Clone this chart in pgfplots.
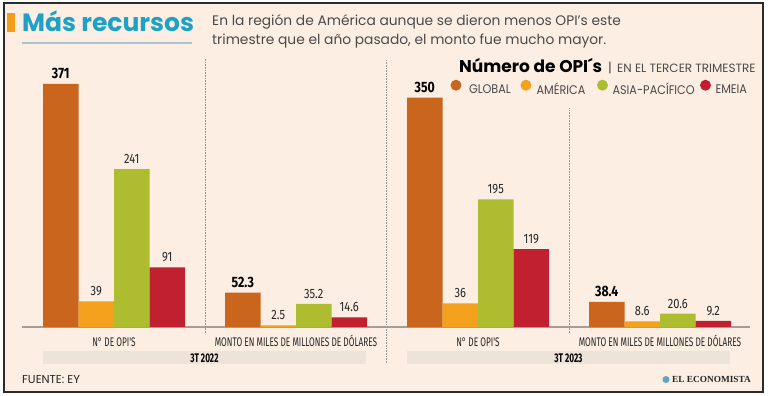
\documentclass[border=0pt]{standalone}
\usepackage{fontspec}
\usepackage{pgfplots}
\pgfplotsset{compat=1.18}
\setmainfont{Poppins}
\newfontfamily\pop{Poppins}
\newfontfamily\popc[FakeStretch=0.8]{Poppins}
\newfontfamily\popm[FakeStretch=0.9]{Poppins}
\newfontfamily\cond[FakeStretch=0.82]{Fira Sans}
\newfontfamily\condn[FakeStretch=0.66]{Fira Sans}
\newfontfamily\serifb{Liberation Serif}
\definecolor{bgc}{HTML}{FCEEE2}
\definecolor{bandc}{HTML}{EEE3D8}
\definecolor{globalc}{HTML}{C9651C}
\definecolor{americac}{HTML}{F4A11E}
\definecolor{asiac}{HTML}{AEBD2F}
\definecolor{emeiac}{HTML}{C0202F}
\definecolor{titlec}{HTML}{1DA1C6}
\definecolor{markc}{HTML}{F39C1F}
\definecolor{textc}{HTML}{4A4A4A}
\definecolor{basec}{HTML}{A59D96}
\definecolor{framec}{HTML}{2B2B2B}
\definecolor{linec}{HTML}{A9C3D3}
\definecolor{logoc}{HTML}{5FA3C9}
\begin{document}
\begin{tikzpicture}
\begin{scope}[x=1pt,y=1pt]
\useasboundingbox (0,0) rectangle (768,396);
\fill[white] (0,0) rectangle (768,396);
\fill[bgc] (4,4) rectangle (763,393);
\fill[bandc] (43,32) rectangle (366,45);
\fill[bandc] (407,32) rectangle (730,45);
\draw[gray!80, densely dotted, line width=0.6pt] (205,63) -- (205,338);
\draw[gray!80, densely dotted, line width=0.6pt] (386,33) -- (386,336);
\draw[gray!80, densely dotted, line width=0.6pt] (569,63) -- (569,288);
\end{scope}
\begin{axis}[
  at={(22pt,69pt)}, anchor=south west,
  scale only axis, width=728pt, height=327pt,
  xmin=22, xmax=750, ymin=0, ymax=499.24,
  axis y line=none, axis x line*=bottom,
  x axis line style={draw=basec, line width=1.3pt},
  xtick={114,296,478,660},
  xticklabels={N° DE OPI'S, MONTO EN MILES DE MILLONES DE DÓLARES, N° DE OPI'S, MONTO EN MILES DE MILLONES DE DÓLARES},
  major tick length=0pt, xtick style={draw=none},
  xticklabel style={anchor=base, yshift=-20pt, font=\condn\fontsize{12.5}{13}\selectfont, text=black!85},
  clip=false,
  /pgf/number format/assume math mode=true,
  legend columns=4,
  legend cell align=left,
  legend style={draw=none, fill=none, at={(0.5886,0.7309)}, anchor=west, inner sep=0pt, outer sep=0pt,
    font=\popm\fontsize{12.5}{13}\selectfont, text=textc,
    nodes={inner sep=0pt}, column sep=0pt},
  every node near coord/.append style={anchor=base, yshift=5.5pt, inner sep=0pt, font=\cond\fontsize{13.5}{14}\selectfont, text=black!85},
]
\addplot[ybar, bar width=35.5, bar shift=0pt, draw=none, fill=globalc,
  nodes near coords, every node near coord/.append style={font=\cond\bfseries\fontsize{15}{16}\selectfont, text=black},
  legend image code/.code={\path[draw=none,fill=none] (0pt,0pt) rectangle (18.5pt,1pt); \fill[globalc,draw=none] (5.5pt,4.5pt) circle (5.5pt);}]
  coordinates {(60.75,371) (242.75,52.3) (424.75,350) (606.75,38.4)};
\addlegendentry{\makebox[51.5pt][l]{GLOBAL}}
\addplot[ybar, bar width=35.5, bar shift=0pt, draw=none, fill=americac, nodes near coords,
  legend image code/.code={\path[draw=none,fill=none] (0pt,0pt) rectangle (16pt,1pt); \fill[americac,draw=none] (5.5pt,4.5pt) circle (5.5pt);}]
  coordinates {(96.25,39) (278.25,2.5) (460.25,36) (642.25,8.6)};
\addlegendentry{\makebox[60.5pt][l]{AMÉRICA}}
\addplot[ybar, bar width=35.5, bar shift=0pt, draw=none, fill=asiac, nodes near coords,
  legend image code/.code={\path[draw=none,fill=none] (0pt,0pt) rectangle (15.5pt,1pt); \fill[asiac,draw=none] (5.5pt,4.5pt) circle (5.5pt);}]
  coordinates {(131.75,241) (313.75,35.2) (495.75,195) (677.75,20.6)};
\addlegendentry{\makebox[87.5pt][l]{ASIA-PACÍFICO}}
\addplot[ybar, bar width=35.5, bar shift=0pt, draw=none, fill=emeiac, nodes near coords,
  legend image code/.code={\path[draw=none,fill=none] (0pt,0pt) rectangle (15.5pt,1pt); \fill[emeiac,draw=none] (5.5pt,4.5pt) circle (5.5pt);}]
  coordinates {(167.25,91) (349.25,14.6) (531.25,119) (713.25,9.2)};
\addlegendentry{EMEIA}
\end{axis}
\begin{scope}[x=1pt,y=1pt]
\fill[markc] (7,364) rectangle (15,383);
\node[anchor=base west, inner sep=0pt, text=titlec, font=\pop\bfseries\fontsize{25}{27}\selectfont] at (22,364) {Más recursos};
\draw[linec, line width=1.2pt] (22,353) -- (192,353);
\node[anchor=base west, inner sep=0pt, text=textc, font=\pop\fontsize{13.8}{15}\selectfont] at (212,370) {En la región de América aunque se dieron menos OPI’s este};
\node[anchor=base west, inner sep=0pt, text=textc, font=\pop\fontsize{13.8}{15}\selectfont] at (212,351) {trimestre que el año pasado, el monto fue mucho mayor.};
\node[anchor=base west, inner sep=0pt, text=black, font=\pop\bfseries\fontsize{17}{18}\selectfont] at (459,323.3) {Número de OPI´s};
\node[anchor=base, inner sep=0pt, text=textc, font=\pop\fontsize{13}{14}\selectfont] at (610,323.3) {|};
\node[anchor=base west, inner sep=0pt, text=textc, font=\pop\fontsize{12}{13}\selectfont] at (617,323.3) {EN EL TERCER TRIMESTRE};
\node[anchor=base, inner sep=0pt, text=black, font=\condn\bfseries\fontsize{12.5}{13}\selectfont] at (204.5,33.5) {3T 2022};
\node[anchor=base, inner sep=0pt, text=black, font=\condn\bfseries\fontsize{12.5}{13}\selectfont] at (568.5,33.5) {3T 2023};
\node[anchor=base west, inner sep=0pt, text=black!85, font=\pop\fontsize{11.5}{12}\selectfont] at (22,12.7) {FUENTE: EY};
\fill[logoc] (666,16.5) circle (3.5);
\node[anchor=base west, inner sep=0pt, text=black!85, font=\serifb\bfseries\fontsize{9.3}{10}\selectfont] at (672,13) {EL ECONOMISTA};
\draw[framec, line width=2pt] (4,4) rectangle (763,393);
\end{scope}
\end{tikzpicture}
\end{document}
